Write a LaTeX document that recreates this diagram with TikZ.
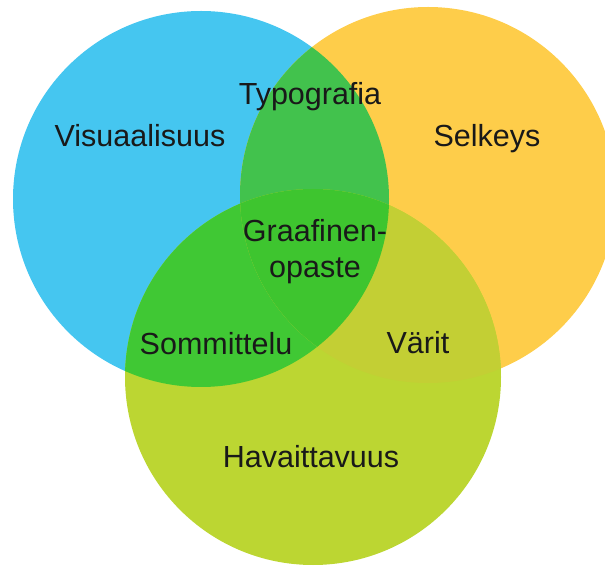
\documentclass[tikz,border=0pt]{standalone}
\usepackage{fontspec}
\setmainfont{Liberation Sans}
\definecolor{vblue}{RGB}{69,198,240}
\definecolor{vorange}{RGB}{254,205,74}
\definecolor{vlime}{RGB}{188,214,50}
\definecolor{vblueorange}{RGB}{66,194,77}
\definecolor{vbluelime}{RGB}{64,200,52}
\definecolor{vorangelime}{RGB}{195,207,52}
\definecolor{vall}{RGB}{62,197,47}
\begin{document}
\begin{tikzpicture}[x=1pt,y=1pt]
	\tikzstyle{term} = [text=black!90, font=\fontsize{30.5}{36}\selectfont, anchor=base, align=center, inner sep=0pt]
	\clip (0,0) rectangle (605,565);
	\def\circV{(201,366) circle (188pt)}
	\def\circS{(428,370) circle (188pt)}
	\def\circH{(313,188) circle (188pt)}
	% circles
	\fill [vblue] \circV;
	\fill [vorange] \circS;
	\fill [vlime] \circH;
	% overlaps
	\begin{scope}
		\clip \circV;
		\fill [vblueorange] \circS;
		\fill [vbluelime] \circH;
	\end{scope}
	\begin{scope}
		\clip \circS;
		\fill [vorangelime] \circH;
		\clip \circV;
		\fill [vall] \circH;
	\end{scope}
	% labels
	\node [term] (V) at (140,418) {Visuaalisuus};
	\node [term] (S) at (487,418) {Selkeys};
	\node [term] (T) at (310,460) {Typografia};
	\node [term] (G) at (315,287) {Graafinen-\\opaste};
	\node [term] (K) at (216,210) {Sommittelu};
	\node [term] (R) at (418,211) {Värit};
	\node [term] (H) at (311,97) {Havaittavuus};
\end{tikzpicture}
\end{document}
